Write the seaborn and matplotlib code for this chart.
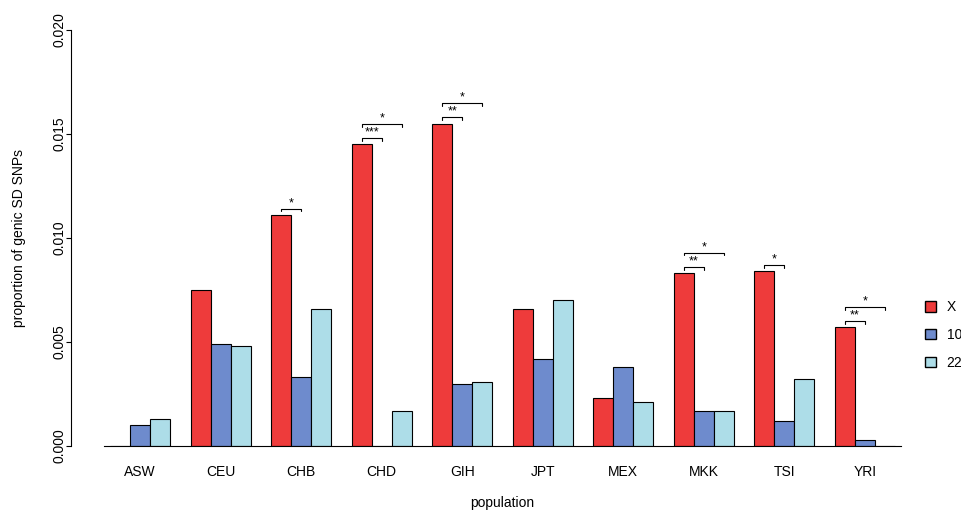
import matplotlib
matplotlib.use("Agg")
import matplotlib.pyplot as plt
import matplotlib.transforms as mtransforms
import seaborn as sns
import pandas as pd
from matplotlib.patches import Patch

populations = ["ASW","CEU","CHB","CHD","GIH","JPT","MEX","MKK","TSI","YRI"]
chrX  = [0.0, 0.0075, 0.0111, 0.0145, 0.0155, 0.0066, 0.0023, 0.0083, 0.0084, 0.0057]
chr10 = [0.0010, 0.0049, 0.0033, 0.0, 0.0030, 0.0042, 0.0038, 0.0017, 0.0012, 0.0003]
chr22 = [0.0013, 0.0048, 0.0066, 0.0017, 0.0031, 0.0070, 0.0021, 0.0017, 0.0032, 0.0]
series = ["X", "10", "22"]
colors = ["#EE3B3B", "#6E8BCD", "#ADDDE8"]
yticks = [0, 0.005, 0.010, 0.015, 0.020]
ytick_labels = ["0.000","0.005","0.010","0.015","0.020"]
# (population, target series, stars, level)
signif = [("CHB","10","*",0),("CHD","10","***",0),("CHD","22","*",1),
          ("GIH","10","**",0),("GIH","22","*",1),("MKK","10","**",0),("MKK","22","*",1),
          ("TSI","10","*",0),("YRI","10","**",0),("YRI","22","*",1)]

rows = []
for i, p in enumerate(populations):
    for s, vals in zip(series, [chrX, chr10, chr22]):
        rows.append({"population": p, "chr": s, "value": vals[i]})
df = pd.DataFrame(rows)

sns.set_style("ticks")
plt.rcParams['font.family'] = ['Liberation Sans', 'DejaVu Sans']
for k in ["text.color", "axes.labelcolor", "xtick.color", "ytick.color", "axes.edgecolor"]:
    plt.rcParams[k] = "black"
fig = plt.figure(figsize=(9.61, 5.18), dpi=100)
ax = fig.add_axes([104/961, 72/518, 797/961, 416/518])
sns.barplot(data=df, x="population", y="value", hue="chr", hue_order=series,
            palette=colors, saturation=1, width=0.75, edgecolor="black", linewidth=0.8,
            ax=ax, legend=False)
ax.set_xlim(-0.45, 9.45)
ax.set_ylim(0, 0.02)
ax.set_yticks(yticks)
ax.set_yticklabels([])
tr = mtransforms.offset_copy(ax.get_yaxis_transform(), fig=fig, x=-38, units="dots")
for v, lab in zip(yticks, ytick_labels):
    ax.text(0, v, lab, transform=tr, rotation=90, ha="center", va="bottom",
            rotation_mode="anchor", fontsize=10)
ax.tick_params(axis="x", length=0, labelsize=10, pad=14)
ax.spines["top"].set_visible(False)
ax.spines["right"].set_visible(False)
ax.spines["left"].set_position(("outward", 24))
ax.spines["left"].set_bounds(0, 0.02)
ax.set_xlabel("population", fontsize=10, labelpad=12)
ax.set_ylabel("proportion of genic SD SNPs", fontsize=10)
ax.yaxis.set_label_coords((26 - 104) / 797, 0.5)

bw = 0.25
offs = {"X": -bw, "10": 0.0, "22": bw}
for p, tgt, st, lvl in signif:
    i = populations.index(p)
    top = chrX[i]
    y = top + 0.0003 + lvl * 0.00068
    x0 = i + offs["X"]; x1 = i + offs[tgt]
    ax.plot([x0, x0, x1, x1], [y - 0.00012, y, y, y - 0.00012], color="black", lw=0.8)
    ax.text((x0 + x1) / 2, y - 0.00002, st, ha="center", va="bottom", fontsize=9)

handles = [Patch(facecolor=c, edgecolor="black", label=s) for c, s in zip(colors, series)]
fig.legend(handles=handles, loc="center left", bbox_to_anchor=(912/961, 1 - 335/518),
           frameon=False, fontsize=10, handlelength=0.8, handleheight=0.8, labelspacing=1.0)
fig.savefig("out.png", dpi=100)
